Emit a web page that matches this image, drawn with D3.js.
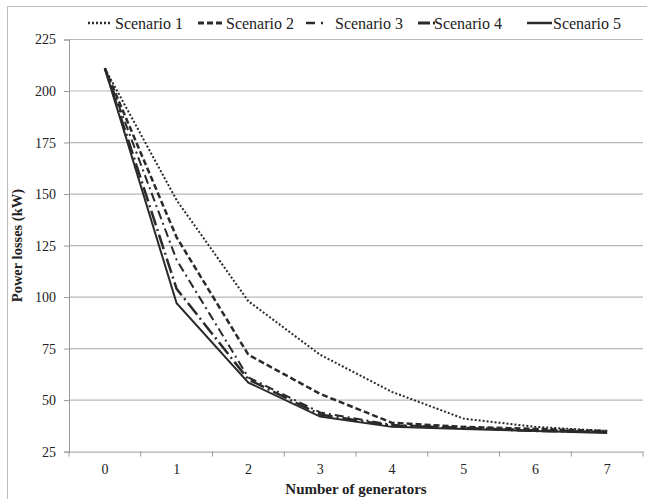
<!DOCTYPE html>
<html>
<head>
<meta charset="utf-8">
<script src="https://cdn.jsdelivr.net/npm/d3@7"></script>
<style>
body { margin: 0; background: #fff; }
text { font-family: "Liberation Serif", "Times New Roman", serif; fill: #222; }
</style>
</head>
<body>
<div id="chart"></div>
<script>
var categories = [0, 1, 2, 3, 4, 5, 6, 7];
var scenario1 = [211, 147, 98, 72, 54, 41, 37, 35];
var scenario2 = [211, 129, 72, 53, 39, 37, 36, 35];
var scenario3 = [211, 118, 61, 44, 38, 36.5, 35.5, 34.5];
var scenario4 = [211, 104, 60, 43, 37.5, 36.5, 35, 34.5];
var scenario5 = [211, 97, 58.5, 42, 37, 36, 35, 34];
var seriesNames = ["Scenario 1", "Scenario 2", "Scenario 3", "Scenario 4", "Scenario 5"];
var yTicks = [25, 50, 75, 100, 125, 150, 175, 200, 225];

var allSeries = [scenario1, scenario2, scenario3, scenario4, scenario5];
var dashes = ["2,2", "6,3", "9,4,2,4", "15,4,2,4", null];
var legendDashes = ["2,2", "6,3", "9,6,2,20", "12,3,2,20", null];
var widths = [2, 2.5, 2, 2.5, 2];
var lineColor = "#2a2a2a";
var serif = "'Liberation Serif', 'Times New Roman', serif";

var W = 647, H = 499;
var plotLeft = 69, plotRight = 643, plotTop = 39.5, plotBottom = 451.6;

var svg = d3.select("#chart").append("svg")
	.attr("width", W)
	.attr("height", H);

// outer frame
svg.append("rect")
	.attr("x", 7.5).attr("y", 6.5)
	.attr("width", W).attr("height", H)
	.attr("fill", "none")
	.attr("stroke", "#bdbdbd");

var x = d3.scaleBand()
	.domain(categories)
	.range([plotLeft, plotRight]);

var y = d3.scaleLinear()
	.domain([25, 225])
	.range([plotBottom, plotTop]);

// gridlines
svg.append("g")
	.selectAll("line")
	.data(yTicks.slice(1))
	.enter().append("line")
	.attr("x1", plotLeft).attr("x2", plotRight)
	.attr("y1", function(d) { return y(d); })
	.attr("y2", function(d) { return y(d); })
	.attr("stroke", "#b8b8b8")
	.attr("stroke-width", 1.2);

// y axis
var yAxis = svg.append("g")
	.attr("transform", "translate(" + plotLeft + ",0)")
	.call(d3.axisLeft(y).tickValues(yTicks).tickSize(5).tickPadding(8));
yAxis.selectAll("text").attr("font-size", 14).attr("font-family", serif).attr("fill", "#222");
yAxis.selectAll("line, path").attr("stroke", "#9a9a9a");

// x axis, ticks between categories
var xAxis = svg.append("g")
	.attr("transform", "translate(0," + plotBottom + ")")
	.call(d3.axisBottom(x).tickSize(0).tickPadding(12));
xAxis.select("path").attr("stroke", "#9a9a9a");
xAxis.selectAll("text").attr("font-size", 14).attr("font-family", serif).attr("fill", "#222");
xAxis.append("g")
	.selectAll("line")
	.data(categories.concat([8]))
	.enter().append("line")
	.attr("x1", function(d) { return plotLeft + d * x.step(); })
	.attr("x2", function(d) { return plotLeft + d * x.step(); })
	.attr("y1", 0).attr("y2", 5)
	.attr("stroke", "#9a9a9a");

// lines
var line = d3.line()
	.x(function(d, i) { return x(categories[i]) + x.bandwidth() / 2; })
	.y(function(d) { return y(d); });

allSeries.forEach(function(s, i) {
	svg.append("path")
		.datum(s)
		.attr("d", line)
		.attr("fill", "none")
		.attr("stroke", lineColor)
		.attr("stroke-width", widths[i])
		.attr("stroke-dasharray", dashes[i]);
});

// legend
var legendX = [88, 198, 306, 418, 527];
var legendLen = [24, 25, 17, 17, 25];
var legendTextX = [115, 226, 335, 434, 553];
var legend = svg.append("g");
seriesNames.forEach(function(name, i) {
	legend.append("line")
		.attr("x1", legendX[i]).attr("x2", legendX[i] + legendLen[i])
		.attr("y1", 23).attr("y2", 23)
		.attr("stroke", lineColor)
		.attr("stroke-width", widths[i] + 0.5)
		.attr("stroke-dasharray", legendDashes[i]);
	legend.append("text")
		.attr("x", legendTextX[i])
		.attr("y", 28.5)
		.attr("font-family", serif)
		.attr("font-size", 16)
		.text(name);
});

// axis titles
svg.append("text")
	.attr("transform", "translate(22," + ((plotTop + plotBottom) / 2) + ") rotate(-90)")
	.attr("text-anchor", "middle")
	.attr("font-family", serif)
	.attr("font-size", 14.5)
	.attr("font-weight", "bold")
	.text("Power losses  (kW)");

svg.append("text")
	.attr("x", (plotLeft + plotRight) / 2)
	.attr("y", 494)
	.attr("text-anchor", "middle")
	.attr("font-family", serif)
	.attr("font-size", 15)
	.attr("font-weight", "bold")
	.text("Number of generators");
</script>
</body>
</html>
